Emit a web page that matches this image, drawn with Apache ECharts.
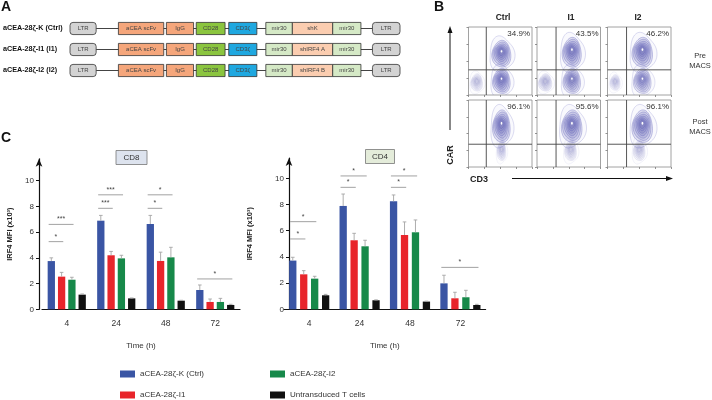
<!DOCTYPE html>
<html><head><meta charset="utf-8">
<script src="https://cdn.jsdelivr.net/npm/echarts@6/dist/echarts.min.js"></script>
<style>html,body{margin:0;padding:0;background:#fff}#c{width:712px;height:400px}</style>
</head><body><div id="c"></div>
<script>
const FONT = 'Liberation Sans, Arial, Helvetica, sans-serif';

// ---------- Panel A: constructs ----------
const constructNames = ['aCEA-28ζ-K (Ctrl)', 'aCEA-28ζ-I1 (I1)', 'aCEA-28ζ-I2 (I2)'];
const elementLabels = [
  ['LTR', 'aCEA scFv', 'IgG', 'CD28', 'CD3ζ', 'mir30', 'shK', 'mir30', 'LTR'],
  ['LTR', 'aCEA scFv', 'IgG', 'CD28', 'CD3ζ', 'mir30', 'shIRF4 A', 'mir30', 'LTR'],
  ['LTR', 'aCEA scFv', 'IgG', 'CD28', 'CD3ζ', 'mir30', 'shIRF4 B', 'mir30', 'LTR']
];
const elementStart = [0, 48.7, 97, 127, 159.7, 197, 223.7, 264.3, 304.3];
const elementEnd   = [26.3, 94.3, 124.3, 156, 188, 223.7, 264.3, 292.7, 332];

// ---------- Panel B: flow cytometry ----------
const facsColumns = ['Ctrl', 'I1', 'I2'];
const facsRows = ['Pre\nMACS', 'Post\nMACS'];
const facsPercent = ['34.9%', '43.5%', '46.2%', '96.1%', '95.6%', '96.1%'];
const gateX = [0.28, 0.30, 0.30, 0.28, 0.30, 0.30];
const gateY = [0.37, 0.37, 0.37, 0.34, 0.34, 0.34];
// populations per panel: [cx, cy, rx, ry, density]
const facsPops = [
  [[0.52, 0.60, 0.13, 0.17, 1], [0.52, 0.20, 0.12, 0.16, 1], [0.13, 0.18, 0.08, 0.11, 0.35]],
  [[0.55, 0.62, 0.13, 0.19, 1], [0.55, 0.20, 0.12, 0.16, 0.9], [0.13, 0.18, 0.09, 0.11, 0.4]],
  [[0.55, 0.62, 0.14, 0.19, 1], [0.55, 0.20, 0.12, 0.16, 0.85], [0.12, 0.18, 0.07, 0.10, 0.3]],
  [[0.52, 0.60, 0.12, 0.21, 1], [0.52, 0.24, 0.06, 0.13, 0.3]],
  [[0.55, 0.60, 0.14, 0.21, 1], [0.53, 0.24, 0.08, 0.13, 0.35]],
  [[0.55, 0.60, 0.14, 0.21, 1], [0.50, 0.24, 0.08, 0.13, 0.35]]
];

// ---------- Panel C: IRF4 MFI ----------
const timeLabels = ['4', '24', '48', '72'];
const groupNames = ['aCEA-28ζ-K (Ctrl)', 'aCEA-28ζ-I1', 'aCEA-28ζ-I2', 'Untransduced T cells'];
const cd8Ctrl = [3.75, 6.89, 6.63, 1.50];
const cd8I1   = [2.54, 4.20, 3.76, 0.57];
const cd8I2   = [2.30, 3.96, 4.04, 0.57];
const cd8Untr = [1.14, 0.85, 0.67, 0.34];
const cd8CtrlErr = [0.25, 0.41, 0.67, 0.39];
const cd8I1Err   = [0.33, 0.30, 0.68, 0.23];
const cd8I2Err   = [0.19, 0.24, 0.78, 0.28];
const cd8UntrErr = [0.05, 0.03, 0.03, 0.05];
const cd4Ctrl = [3.72, 7.89, 8.24, 1.98];
const cd4I1   = [2.67, 5.27, 5.67, 0.84];
const cd4I2   = [2.34, 4.81, 5.88, 0.92];
const cd4Untr = [1.07, 0.69, 0.59, 0.33];
const cd4CtrlErr = [0.25, 0.91, 0.49, 0.62];
const cd4I1Err   = [0.28, 0.53, 1.00, 0.46];
const cd4I2Err   = [0.18, 0.46, 0.94, 0.53];
const cd4UntrErr = [0.07, 0.03, 0.03, 0.05];
// significance: [time index, y value, from bar, to bar, label]
const cd8Sig = [[0, 5.26, 0, 1, '*'], [0, 6.60, 0, 2, '***'], [1, 7.85, 0, 1, '***'], [1, 8.90, 0, 2, '***'],
                [2, 7.85, 0, 1, '*'], [2, 8.90, 0, 2, '*'], [3, 2.36, 0, 3, '*']];
const cd4Sig = [[0, 5.37, 0, 1, '*'], [0, 6.69, 0, 2, '*'], [1, 9.31, 0, 1, '*'], [1, 10.18, 0, 2, '*'],
                [2, 9.31, 0, 1, '*'], [2, 10.18, 0, 2, '*'], [3, 3.20, 0, 3, '*']];
const yTicks = [0, 2, 4, 6, 8, 10];

// ---------- styling ----------
const elemColors = ['#d3d3d3', '#f5a67b', '#f5a67b', '#8bc53f', '#1fa8e0', '#d5e9c6', '#fbcdb0', '#d5e9c6', '#d3d3d3'];
const barColors = ['#3a55a4', '#e8252b', '#17894a', '#111111'];
const BAR_W = 7.3;

const chart = echarts.init(document.getElementById('c'));

const grids = [], xAxes = [], yAxes = [], series = [];

// Panel A grid
grids.push({left: 68, top: 18, width: 332, height: 63});
xAxes.push({gridIndex: 0, type: 'value', min: 0, max: 332, show: false});
yAxes.push({gridIndex: 0, type: 'category', data: constructNames, inverse: true,
  axisLine: {show: false}, axisTick: {show: false}, splitLine: {show: false},
  axisLabel: {align: 'left', margin: 67, fontWeight: 'bold', fontSize: 7.2, color: '#111', fontFamily: FONT}});
series.push({type: 'custom', xAxisIndex: 0, yAxisIndex: 0, silent: true,
  data: constructNames.map((n, i) => [elementEnd[0], i, elementStart[elementStart.length - 1]]),
  renderItem: function (params, api) {
    const a = api.coord([api.value(0), api.value(1)]);
    const b = api.coord([api.value(2), api.value(1)]);
    return {type: 'line', shape: {x1: a[0], y1: a[1], x2: b[0], y2: b[1]}, style: {stroke: '#444', lineWidth: 1}};
  }});
const elemData = [];
constructNames.forEach((n, r) => elementLabels[r].forEach((l, e) => elemData.push([elementStart[e], r, elementEnd[e], e])));
series.push({type: 'custom', xAxisIndex: 0, yAxisIndex: 0, silent: true, z: 3,
  data: elemData,
  renderItem: function (params, api) {
    const r = api.value(1), e = api.value(3);
    const a = api.coord([api.value(0), r]);
    const b = api.coord([api.value(2), r]);
    const h = api.size([0, 1])[1] * 0.58;
    const isLTR = (e === 0 || e === elementStart.length - 1);
    return {type: 'group', children: [
      {type: 'rect', shape: {x: a[0], y: a[1] - h / 2, width: b[0] - a[0], height: h, r: isLTR ? 3 : 0},
        style: {fill: elemColors[e], stroke: '#333', lineWidth: 0.8}},
      {type: 'text', style: {text: elementLabels[r][e], x: (a[0] + b[0]) / 2, y: a[1], align: 'center', verticalAlign: 'middle',
        fontSize: 6, fill: '#444', fontFamily: FONT}}
    ]};
  }});

// Panel C bar charts
function addBarChart(gIdx, left, top, width, height, ymax, offset, nameGap, gapPct, means, errs, sig) {
  grids.push({left: left, top: top, width: width, height: height});
  xAxes.push({gridIndex: gIdx, type: 'category', data: timeLabels,
    axisLine: {lineStyle: {color: '#111', width: 1.2}},
    axisTick: {alignWithLabel: true, length: 5, lineStyle: {color: '#111', width: 1.2}},
    axisLabel: {fontSize: 8.5, color: '#333', margin: 10, fontFamily: FONT},
    name: 'Time (h)', nameLocation: 'middle', nameGap: 32,
    nameTextStyle: {fontSize: 8, color: '#333', fontFamily: FONT}});
  yAxes.push({gridIndex: gIdx, type: 'value', min: 0, max: ymax, offset: offset,
    axisLine: {show: true, lineStyle: {color: '#111', width: 1.2}, symbol: ['none', 'arrow'], symbolSize: [5, 8]},
    axisTick: {show: true, length: 3, customValues: yTicks, lineStyle: {color: '#111'}},
    axisLabel: {customValues: yTicks, fontSize: 8, color: '#333', margin: 5, fontFamily: FONT},
    splitLine: {show: false},
    name: 'IRF4 MFI (x10³)', nameLocation: 'middle', nameGap: nameGap,
    nameTextStyle: {fontWeight: 'bold', fontSize: 7.5, color: '#222', fontFamily: FONT}});
  const gap = BAR_W * gapPct / 100;
  means.forEach((m, s) => {
    series.push({type: 'bar', name: groupNames[s], xAxisIndex: gIdx, yAxisIndex: gIdx, data: m,
      barWidth: BAR_W, barGap: gapPct + '%', itemStyle: {color: barColors[s]}, silent: true});
  });
  const errData = [];
  means.forEach((m, s) => m.forEach((v, c) => errData.push([c, v, errs[s][c], s])));
  series.push({type: 'custom', xAxisIndex: gIdx, yAxisIndex: gIdx, silent: true, z: 4, data: errData,
    renderItem: function (params, api) {
      const c = api.value(0), v = api.value(1), e = api.value(2), s = api.value(3);
      const p0 = api.coord([c, v]), p1 = api.coord([c, v + e]);
      const x = p0[0] + (s - 1.5) * (BAR_W + gap);
      return {type: 'group', children: [
        {type: 'line', shape: {x1: x, y1: p0[1], x2: x, y2: p1[1]}, style: {stroke: '#a5a5a5', lineWidth: 0.9}},
        {type: 'line', shape: {x1: x - 1.8, y1: p1[1], x2: x + 1.8, y2: p1[1]}, style: {stroke: '#a5a5a5', lineWidth: 0.9}}
      ]};
    }});
  series.push({type: 'custom', xAxisIndex: gIdx, yAxisIndex: gIdx, silent: true, z: 4,
    data: sig.map(d => [d[0], d[1], d[2], d[3]]),
    renderItem: function (params, api) {
      const c = api.value(0), y = api.value(1), f = api.value(2), t = api.value(3);
      const p = api.coord([c, y]);
      const x1 = p[0] + (f - 1.5) * (BAR_W + gap) - BAR_W / 2 + 1;
      const x2 = p[0] + (t - 1.5) * (BAR_W + gap) + BAR_W / 2 - 2;
      return {type: 'group', children: [
        {type: 'line', shape: {x1: x1, y1: p[1], x2: x2, y2: p[1]}, style: {stroke: '#8a8a8a', lineWidth: 0.8}},
        {type: 'text', style: {text: sig[params.dataIndex][4], x: (x1 + x2) / 2, y: p[1] - 1.5, align: 'center',
          verticalAlign: 'bottom', fontSize: 7, fill: '#444', fontFamily: FONT}}
      ]};
    }});
}
addBarChart(1, 42, 158.8, 198, 150.5, 11.7, 3, 25, 41,
  [cd8Ctrl, cd8I1, cd8I2, cd8Untr], [cd8CtrlErr, cd8I1Err, cd8I2Err, cd8UntrErr], cd8Sig);
addBarChart(2, 284, 158, 201.6, 151.3, 11.55, -5, 35, 50,
  [cd4Ctrl, cd4I1, cd4I2, cd4Untr], [cd4CtrlErr, cd4I1Err, cd4I2Err, cd4UntrErr], cd4Sig);

// Panel B FACS grids
const facsLeft = [468.5, 537, 607.5];
const facsTop = [27, 100];
const facsH = [68, 67];
function blobPts(cx, cy, rx, ry, k, wob) {
  const pts = [];
  for (let i = 0; i < 56; i++) {
    const t = i / 56 * Math.PI * 2;
    const w = 1 + wob * Math.sin(3 * t + k * 5);
    pts.push([cx + Math.cos(t) * rx * k * w, cy + Math.sin(t) * ry * k * w]);
  }
  return pts;
}
facsPercent.forEach((pct, p) => {
  const gIdx = 3 + p;
  const row = p < 3 ? 0 : 1, col = p % 3;
  grids.push({left: facsLeft[col], top: facsTop[row], width: 63.5, height: facsH[row],
    show: true, borderColor: '#8a8a8a', borderWidth: 0.8, backgroundColor: '#fff'});
  xAxes.push({gridIndex: gIdx, type: 'value', min: 0, max: 1, interval: 0.25,
    axisLine: {show: false}, axisLabel: {show: false}, splitLine: {show: false},
    axisTick: {show: true, length: 2, lineStyle: {color: '#777', width: 0.8}}});
  yAxes.push({gridIndex: gIdx, type: 'value', min: 0, max: 1, interval: 0.25,
    axisLine: {show: false}, axisLabel: {show: false}, splitLine: {show: false},
    axisTick: {show: true, length: 2, lineStyle: {color: '#777', width: 0.8}}});
  series.push({type: 'custom', xAxisIndex: gIdx, yAxisIndex: gIdx, silent: true, clip: true,
    data: facsPops[p],
    renderItem: function (params, api) {
      const c = api.coord([api.value(0), api.value(1)]);
      const rx = api.size([api.value(2), 0])[0];
      const ry = api.size([0, api.value(3)])[1];
      const d = api.value(4);
      const kids = [];
      kids.push({type: 'polygon', shape: {points: blobPts(c[0], c[1], rx, ry, 1.5, 0.1)},
        style: {fill: 'rgba(150,150,215,' + (0.06 * d) + ')', stroke: 'rgba(120,120,200,' + (0.5 * d) + ')', lineWidth: 0.5}});
      [1.15, 1.0, 0.84, 0.69, 0.55, 0.42, 0.3].forEach((k, i) => {
        kids.push({type: 'polygon', shape: {points: blobPts(c[0], c[1] - ry * 0.03 * i, rx, ry, k, 0.05)},
          style: {fill: 'rgba(80,80,170,' + (0.14 * d) + ')', stroke: 'rgba(95,95,185,' + (0.7 * d) + ')', lineWidth: 0.5}});
      });
      if (d > 0.8) {
        kids.push({type: 'polygon', shape: {points: blobPts(c[0], c[1] - ry * 0.25, rx, ry, 0.1, 0)},
          style: {fill: '#ffffff', stroke: 'none'}});
      }
      return {type: 'group', children: kids};
    }});
  series.push({type: 'custom', xAxisIndex: gIdx, yAxisIndex: gIdx, silent: true, z: 5,
    data: [[gateX[p], gateY[p]]],
    renderItem: function (params, api) {
      const gx = api.value(0), gy = api.value(1);
      const a = api.coord([gx, 0]), b = api.coord([gx, 1]);
      const c = api.coord([0, gy]), d = api.coord([1, gy]);
      const tr = api.coord([1, 1]);
      return {type: 'group', children: [
        {type: 'line', shape: {x1: a[0], y1: a[1], x2: b[0], y2: b[1]}, style: {stroke: '#444', lineWidth: 0.9}},
        {type: 'line', shape: {x1: c[0], y1: c[1], x2: d[0], y2: d[1]}, style: {stroke: '#444', lineWidth: 0.9}},
        {type: 'text', style: {text: facsPercent[p], x: tr[0] - 2, y: tr[1] + 3, align: 'right', verticalAlign: 'top',
          fontSize: 8, fill: '#333', fontFamily: FONT}}
      ]};
    }});
});

const option = {
  animation: false,
  textStyle: {fontFamily: FONT},
  grid: grids, xAxis: xAxes, yAxis: yAxes, series: series,
  title: [
    {text: 'CD8', left: 116, top: 150, padding: [3, 7.5], backgroundColor: '#dde3ee', borderColor: '#777', borderWidth: 0.8,
      textStyle: {fontSize: 8, fontWeight: 'normal', color: '#333', lineHeight: 9, fontFamily: FONT}},
    {text: 'CD4', left: 365, top: 149, padding: [3, 7], backgroundColor: '#e4ecda', borderColor: '#777', borderWidth: 0.8,
      textStyle: {fontSize: 8, fontWeight: 'normal', color: '#333', lineHeight: 9, fontFamily: FONT}}
  ],
  legend: [
    {left: 120, top: 370, orient: 'vertical', padding: 0, itemWidth: 15, itemHeight: 7, itemGap: 13, icon: 'rect',
      selectedMode: false, data: [groupNames[0], groupNames[1]], textStyle: {fontSize: 8, color: '#333', fontFamily: FONT}},
    {left: 270, top: 370, orient: 'vertical', padding: 0, itemWidth: 15, itemHeight: 7, itemGap: 13, icon: 'rect',
      selectedMode: false, data: [groupNames[2], groupNames[3]], textStyle: {fontSize: 8, color: '#333', fontFamily: FONT}}
  ],
  graphic: [
    {type: 'text', left: 1, top: 0, style: {text: 'A', fontSize: 14, fontWeight: 'bold', fill: '#111', fontFamily: FONT}},
    {type: 'text', left: 434, top: 0, style: {text: 'B', fontSize: 14, fontWeight: 'bold', fill: '#111', fontFamily: FONT}},
    {type: 'text', left: 1, top: 131, style: {text: 'C', fontSize: 14, fontWeight: 'bold', fill: '#111', fontFamily: FONT}},
    {type: 'text', x: 503, y: 18, style: {text: facsColumns[0], align: 'center', verticalAlign: 'middle', fontSize: 8.5, fontWeight: 'bold', fill: '#222', fontFamily: FONT}},
    {type: 'text', x: 571, y: 18, style: {text: facsColumns[1], align: 'center', verticalAlign: 'middle', fontSize: 8.5, fontWeight: 'bold', fill: '#222', fontFamily: FONT}},
    {type: 'text', x: 638, y: 18, style: {text: facsColumns[2], align: 'center', verticalAlign: 'middle', fontSize: 8.5, fontWeight: 'bold', fill: '#222', fontFamily: FONT}},
    {type: 'text', x: 700, y: 61, style: {text: facsRows[0], align: 'center', verticalAlign: 'middle', fontSize: 7.5, lineHeight: 10, fill: '#333', fontFamily: FONT}},
    {type: 'text', x: 700, y: 127, style: {text: facsRows[1], align: 'center', verticalAlign: 'middle', fontSize: 7.5, lineHeight: 10, fill: '#333', fontFamily: FONT}},
    {type: 'line', shape: {x1: 450, y1: 130, x2: 450, y2: 32}, style: {stroke: '#111', lineWidth: 1}},
    {type: 'polygon', shape: {points: [[450, 26], [447.5, 33], [452.5, 33]]}, style: {fill: '#111'}},
    {type: 'line', shape: {x1: 512, y1: 178.5, x2: 667, y2: 178.5}, style: {stroke: '#111', lineWidth: 1}},
    {type: 'polygon', shape: {points: [[673, 178.5], [666, 176], [666, 181]]}, style: {fill: '#111'}},
    {type: 'text', x: 451, y: 155, rotation: Math.PI / 2, style: {text: 'CAR', align: 'center', verticalAlign: 'middle', fontSize: 9, fontWeight: 'bold', fill: '#222', fontFamily: FONT}},
    {type: 'text', x: 470, y: 180, style: {text: 'CD3', align: 'left', verticalAlign: 'middle', fontSize: 9, fontWeight: 'bold', fill: '#222', fontFamily: FONT}}
  ]
};
chart.setOption(option);
</script>
</body></html>
